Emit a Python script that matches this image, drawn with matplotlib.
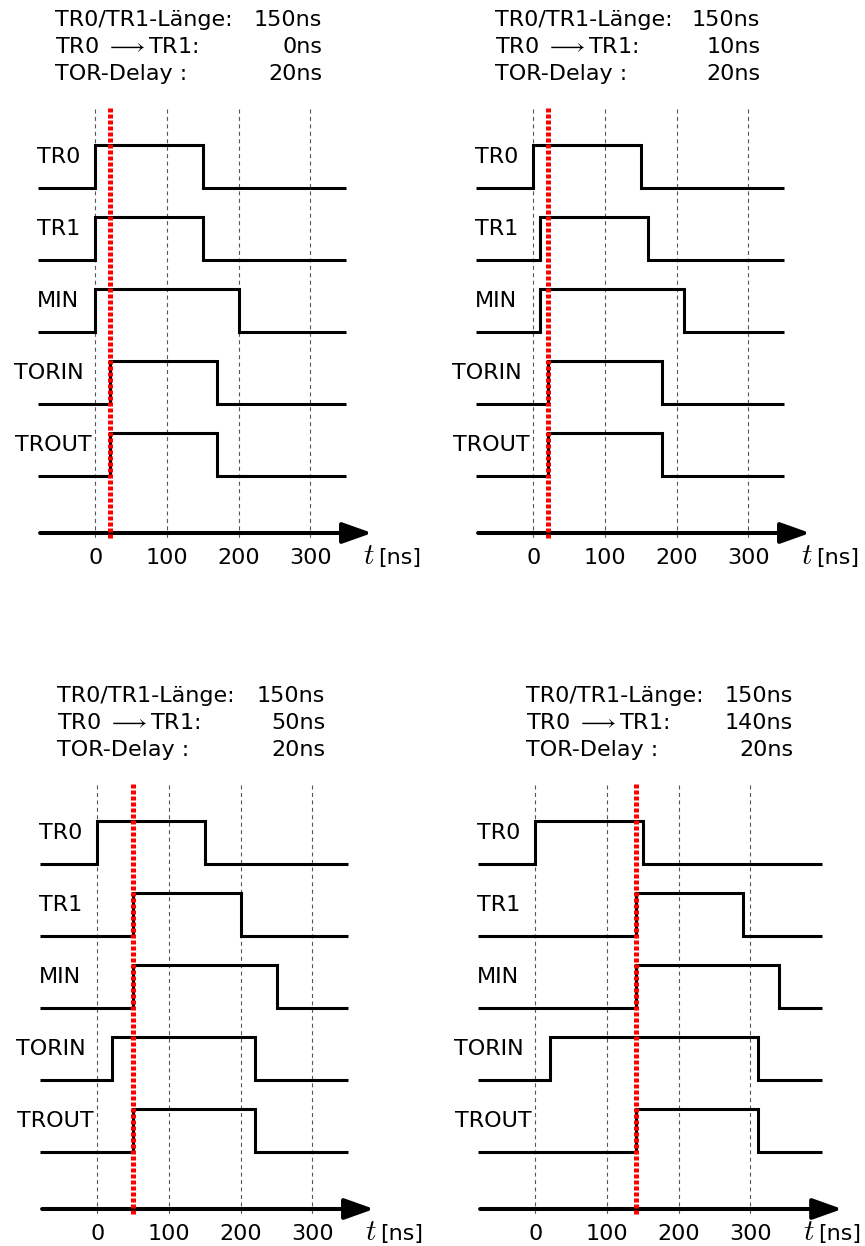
import matplotlib
matplotlib.use('Agg')
import matplotlib.pyplot as plt

plt.rcParams['font.family'] = ['DejaVu Sans']
plt.rcParams['mathtext.fontset'] = 'cm'

# ---------------- data ----------------
signal_names = ['TR0', 'TR1', 'MIN', 'TORIN', 'TROUT']
pulse_length = [150, 150, 150, 150]
tr0_to_tr1 = [0, 10, 50, 140]
tor_delay = [20, 20, 20, 20]

tr0_rise = [0, 0, 0, 0]
tr0_fall = [150, 150, 150, 150]
tr1_rise = [0, 10, 50, 140]
tr1_fall = [150, 160, 200, 290]
min_rise = [0, 10, 50, 140]
min_fall = [200, 210, 250, 340]
torin_rise = [20, 20, 20, 20]
torin_fall = [170, 180, 220, 310]
trout_rise = [20, 20, 50, 140]
trout_fall = [170, 180, 220, 310]
marker_time = [20, 20, 50, 140]

trace_start = [-80, -80, -80, -80]
trace_end = [350, 350, 350, 400]
axis_start = [-77, -77, -77, -77]
axis_end = [386, 386, 386, 428]
grid_times = [0, 100, 200, 300]
tick_labels = ['0', '100', '200', '300']
header_labels = ['TR0/TR1-Länge:', r'TR0 $\longrightarrow$TR1:', 'TOR-Delay :']

rises = [tr0_rise, tr1_rise, min_rise, torin_rise, trout_rise]
falls = [tr0_fall, tr1_fall, min_fall, torin_fall, trout_fall]

# ---------------- layout ----------------
W, H, DPI = 865, 1246, 100
K = 0.717                      # px per ns
panel_x0 = [95.3, 533.3, 97.3, 535.3]
panel_y0 = [0, 0, 676, 676]
T_MIN, T_MAX = -110, 450
PANEL_H = 570
row_high = [145, 217, 289, 361, 433]
row_drop = 43
axis_y = 533
label_dx = [-58, -58, -58, -81, -80]
header_left = [-40, -38, -40, -9]
header_right = [227, 227, 228, 258]
header_base = [26.5, 53, 79.5]
FS = 16

fig = plt.figure(figsize=(W / DPI, H / DPI), dpi=DPI)

for p in range(4):
    left_px = panel_x0[p] + T_MIN * K
    width_px = (T_MAX - T_MIN) * K
    ax = fig.add_axes([left_px / W, 1 - (panel_y0[p] + PANEL_H) / H,
                       width_px / W, PANEL_H / H])
    ax.set_xlim(T_MIN, T_MAX)
    ax.set_ylim(PANEL_H, 0)
    ax.axis('off')

    # header
    values = [f'{pulse_length[p]}ns', f'{tr0_to_tr1[p]}ns', f'{tor_delay[p]}ns']
    for lbl, val, yb in zip(header_labels, values, header_base):
        ax.text(header_left[p] / K, yb, lbl, ha='left', va='baseline',
                fontsize=FS, clip_on=False)
        ax.text(header_right[p] / K, yb, val, ha='right', va='baseline',
                fontsize=FS, clip_on=False)

    # dashed grid
    for t in grid_times:
        ax.plot([t, t], [109, 540], color='#555555', lw=0.8,
                linestyle=(0, (3.6, 3.1)), zorder=1, clip_on=False)

    # signals
    for i, name in enumerate(signal_names):
        hi = row_high[i]
        lo = hi + row_drop
        r, f = rises[i][p], falls[i][p]
        xs = [trace_start[p], r, r, f, f, trace_end[p]]
        ys = [lo, lo, hi, hi, lo, lo]
        ax.plot(xs, ys, color='black', lw=2.2, solid_joinstyle='miter',
                solid_capstyle='butt', zorder=2, clip_on=False)
        ax.text(label_dx[i] / K, hi + 18, name, ha='left', va='baseline',
                fontsize=FS, clip_on=False)

    # time axis arrow
    ax.annotate('', xy=(axis_end[p], axis_y), xytext=(axis_start[p], axis_y),
                arrowprops=dict(arrowstyle='-|>,head_length=0.9,head_width=0.32',
                                mutation_scale=20, lw=2.9, color='black',
                                shrinkA=0, shrinkB=0),
                annotation_clip=False, zorder=3)
    for t, lab in zip(grid_times, tick_labels):
        ax.text(t, axis_y + 31, lab, ha='center', va='baseline',
                fontsize=FS, clip_on=False)
    ax.text(381, axis_y + 31, r'$t$', ha='center', va='baseline',
            fontsize=21, clip_on=False)
    ax.text(455, axis_y + 31, '[ns]', ha='right', va='baseline',
            fontsize=FS, clip_on=False)

    # red marker
    m = marker_time[p]
    ax.plot([m, m], [108, 540], color='#ff0000', lw=3.6,
            linestyle=(0, (0.8, 0.4)), solid_capstyle='butt',
            dash_capstyle='butt', zorder=4, clip_on=False)

fig.savefig('out.png', dpi=DPI)
